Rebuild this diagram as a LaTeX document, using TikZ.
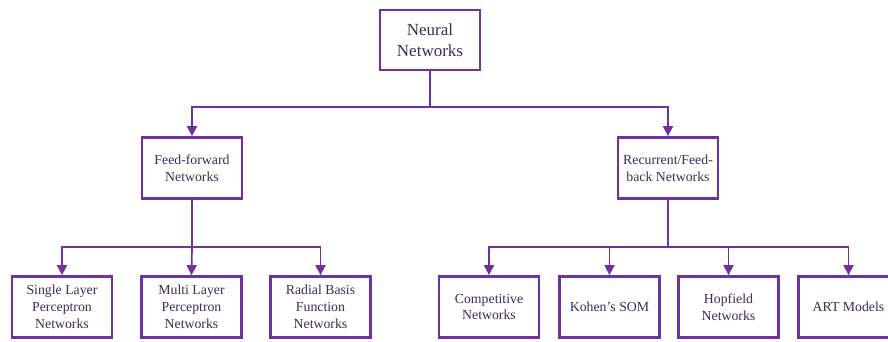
\documentclass[tikz,border=0pt]{standalone}
\usepackage{fontspec}
\setmainfont{Liberation Serif}
\usetikzlibrary{arrows.meta}
\definecolor{nnpurple}{HTML}{7030A0}
\definecolor{nntext}{HTML}{3B2A55}
\begin{document}
\begin{tikzpicture}[x=1pt, y=-1pt,
		box/.style={draw=nnpurple, line width=2.8pt, text=nntext, align=center, minimum width=100pt, minimum height=61pt, inner sep=1pt, font=\fontsize{13.8}{16.8}\selectfont},
		link/.style={draw=nnpurple, line width=1.7pt},
		arr/.style={link, -{Triangle[length=10pt,width=10pt]}}]
		\useasboundingbox (0,0) rectangle (888,341);
		% top
		\node [box, minimum height=60pt, font=\fontsize{17}{20.5}\selectfont] (nn) at (430,40) {Neural\\Networks};
		% middle row
		\node [box] (ff) at (192,168) {Feed-forward\\Networks};
		\node [box] (rec) at (668,168) {Recurrent/Feed-\\back Networks};
		% bottom row
		\node [box] (slp) at (62,307) {Single Layer\\Perceptron\\Networks};
		\node [box] (mlp) at (191.5,307) {Multi Layer\\Perceptron\\Networks};
		\node [box] (rbf) at (320.5,307) {Radial Basis\\Function\\Networks};
		\node [box] (comp) at (489,307) {Competitive\\Networks};
		\node [box] (som) at (609.5,307) {Kohen's SOM};
		\node [box] (hop) at (728.5,307) {Hopfield\\Networks};
		\node [box] (art) at (848.5,307) {ART Models};
		% junctions
		\coordinate (nnj) at (430,107);
		\coordinate (ffj) at (192,247);
		\coordinate (recj) at (668,247);
		\draw [link] (nn.south) -- (nnj);
		\draw [arr] (nnj) -| (ff.north);
		\draw [arr] (nnj) -| (rec.north);
		\draw [link] (ff.south) -- (ffj);
		\draw [arr] (ffj) -| (slp.north);
		\draw [arr] (ffj) -- (mlp.north);
		\draw [arr] (ffj) -| (rbf.north);
		\draw [link] (rec.south) -- (recj);
		\draw [arr] (recj) -| (comp.north);
		\draw [arr] (recj) -| (som.north);
		\draw [arr] (recj) -| (hop.north);
		\draw [arr] (recj) -| (art.north);
	\end{tikzpicture}
\end{document}
